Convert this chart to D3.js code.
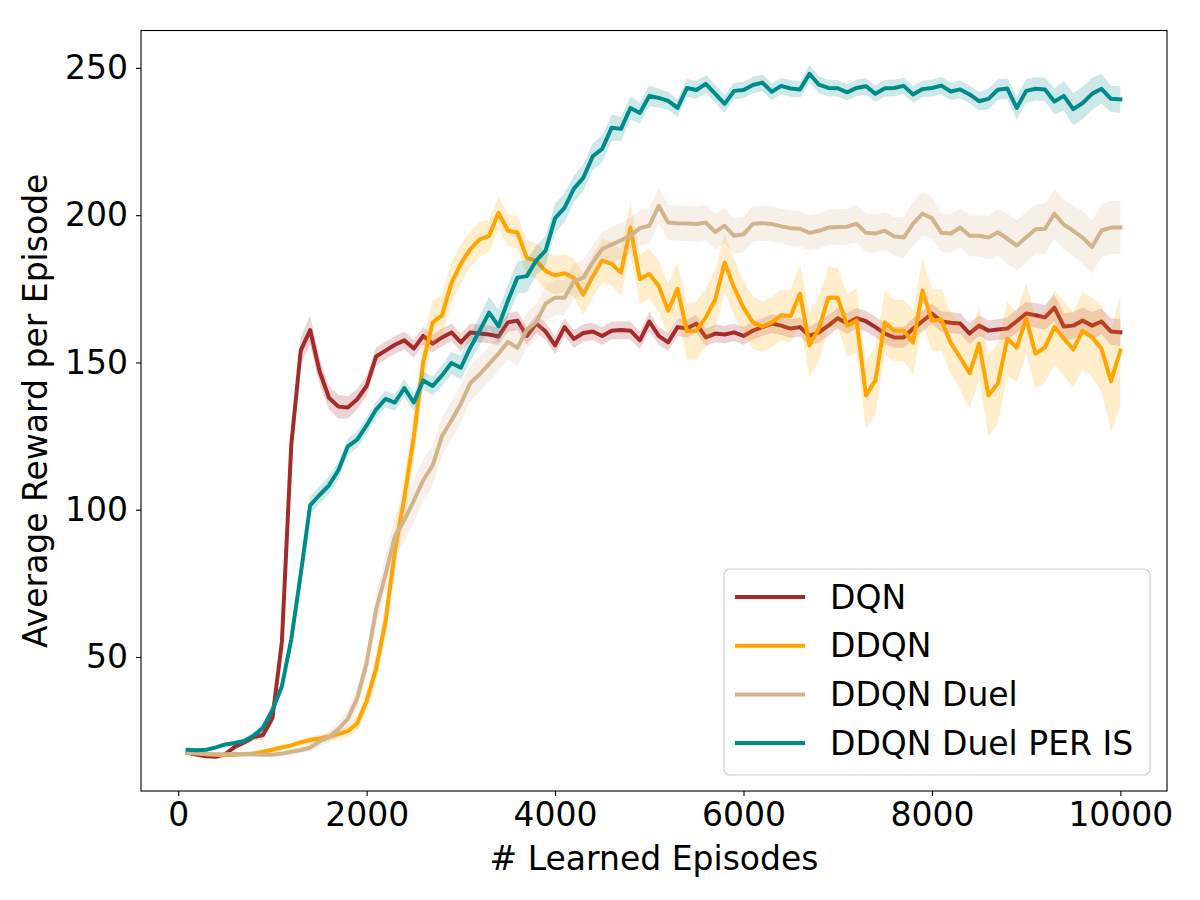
<!DOCTYPE html>
<html>
<head>
<meta charset="utf-8">
<script src="https://cdn.jsdelivr.net/npm/d3@7"></script>
<style>
body { margin: 0; background: #fff; }
text { font-family: "DejaVu Sans", sans-serif; fill: #000; }
</style>
</head>
<body>
<svg width="1200" height="900"></svg>
<script>
const episodes = d3.range(100, 10001, 100);

const dqn = [17.5,16.8,16.3,16.1,17.0,19.5,21.0,22.8,23.5,29.3,
  55.0,122.0,154.0,161.0,147.0,138.0,135.0,134.7,137.5,142.0,
  152.0,154.0,156.0,157.5,154.7,159.0,156.4,158.5,160.2,156.8,
  160.2,159.8,159.5,158.8,163.6,164.2,159.0,163.2,160.5,155.8,
  162.0,158.0,160.0,160.5,159.0,160.8,161.0,160.8,157.5,163.9,
  159.0,156.8,162.0,161.5,163.2,158.5,159.8,159.5,160.2,159.0,
  160.8,162.0,163.2,162.5,161.5,162.0,159.0,160.2,162.5,165.0,
  163.2,165.0,164.0,162.0,159.8,158.5,158.5,161.5,164.0,166.6,
  163.9,163.5,163.2,159.8,162.5,160.8,161.2,161.5,164.0,166.6,
  166.0,165.3,168.6,162.2,162.5,164.2,162.5,163.9,160.5,160.2];
const dqnSpread = [0.5,0.5,0.5,0.5,0.6,0.8,1.0,1.2,1.5,2.0,
  2.5,3.5,4.5,5.0,4.5,4.0,4.0,3.8,3.5,3.5,
  3.2,3.0,3.0,3.0,3.0,3.0,3.0,3.0,3.0,3.0,
  3.0,3.0,3.0,3.0,3.2,3.2,3.0,3.0,3.0,3.0,
  3.0,3.0,3.0,3.0,3.0,3.0,3.0,3.0,3.0,3.2,
  3.0,3.0,3.0,3.0,3.0,3.0,3.0,3.0,3.0,3.0,
  3.0,3.0,3.2,3.2,3.2,3.2,3.2,3.5,3.5,3.5,
  3.5,3.5,3.5,3.5,3.5,3.5,3.5,3.5,3.5,3.5,
  3.5,3.5,3.5,3.5,3.5,3.5,3.5,3.8,4.0,4.0,
  4.2,4.2,4.5,4.5,4.5,4.5,4.5,4.5,4.5,4.5];

const ddqn = [17.5,17.2,17.0,16.8,16.6,16.8,17.0,17.2,17.8,18.5,
  19.3,20.0,21.0,21.8,22.3,23.0,23.8,24.8,27.5,35.0,
  46.0,62.0,86.0,104.0,124.6,150.0,163.5,166.0,177.0,183.5,
  188.5,191.8,193.0,200.8,194.7,194.1,185.5,184.5,181.0,179.5,
  180.3,178.7,173.0,179.2,184.6,183.5,180.5,195.8,178.3,180.0,
  176.0,167.6,175.0,160.6,160.8,165.3,171.4,183.9,175.4,168.6,
  163.6,162.1,163.6,166.0,165.8,173.4,155.8,161.5,172.0,172.0,
  162.5,164.2,138.8,143.9,163.6,160.8,160.8,156.8,174.4,164.2,
  164.5,156.6,151.7,146.3,156.4,138.8,142.9,158.1,155.1,164.9,
  153.0,155.1,162.0,158.1,154.4,160.8,158.5,154.7,143.6,154.0];
const ddqnSpread = [0.5,0.5,0.5,0.5,0.5,0.6,0.6,0.7,0.8,0.9,
  1.0,1.0,1.1,1.2,1.3,1.4,1.5,1.8,2.5,3.5,
  4.5,6.0,7.0,7.5,8.0,8.0,7.5,7.0,7.0,6.5,
  6.0,6.0,5.5,5.5,5.5,5.5,6.0,6.0,6.5,6.5,
  6.5,6.5,7.0,7.0,7.5,7.5,8.0,8.5,8.5,8.5,
  8.5,9.0,9.0,9.5,10.0,10.0,10.0,10.0,9.5,9.0,
  9.0,8.5,8.5,8.5,9.0,10.0,11.0,11.0,10.5,10.0,
  10.5,11.0,11.5,11.5,11.0,10.5,10.5,11.0,11.0,10.5,
  10.5,10.5,11.0,12.0,12.5,14.0,13.5,12.5,12.0,12.0,
  12.0,12.0,12.5,12.5,13.0,13.0,13.5,14.5,17.0,19.0];

const duel = [17.5,17.3,17.1,17.0,17.0,17.1,17.0,16.9,16.8,16.8,
  17.2,17.8,18.4,19.2,21.3,22.8,25.5,29.0,36.0,48.0,
  66.0,78.0,91.0,96.5,103.0,110.0,115.0,125.0,130.3,136.0,
  143.0,146.0,149.5,153.0,157.0,155.0,161.0,163.7,170.0,172.0,
  172.0,177.5,178.8,184.0,188.5,190.0,191.5,193.0,195.6,196.4,
  203.2,197.5,197.3,197.2,197.0,197.5,194.3,196.4,193.0,193.5,
  197.1,197.3,197.0,196.2,195.6,195.4,194.0,194.7,195.8,196.0,
  196.1,197.1,194.0,193.8,194.7,192.8,192.4,197.1,200.5,199.0,
  194.0,193.8,195.8,193.0,193.0,192.4,194.2,192.0,189.7,192.5,
  195.2,195.4,200.5,196.8,194.7,192.4,189.2,194.8,195.8,195.8];
const duelSpread = [0.5,0.5,0.5,0.5,0.5,0.5,0.5,0.5,0.6,0.7,
  0.8,0.9,1.0,1.2,1.5,2.0,2.5,3.0,3.5,4.0,
  5.0,6.0,7.0,7.5,7.5,7.0,7.0,6.5,6.5,6.5,
  6.0,6.0,6.0,6.0,6.0,6.0,6.0,6.0,6.0,6.0,
  6.0,6.0,6.0,6.0,6.0,6.0,6.0,6.0,6.0,6.0,
  6.0,6.0,6.0,6.0,6.0,6.0,6.0,6.0,6.0,6.0,
  6.0,6.0,6.0,6.0,6.0,6.0,6.0,6.0,6.0,6.0,
  6.0,6.5,6.5,6.5,6.5,6.5,7.0,7.5,7.5,7.0,
  6.5,6.5,6.5,7.0,7.0,7.5,8.0,8.5,8.5,8.5,
  8.5,8.5,8.5,8.5,8.5,9.0,9.0,9.0,9.0,9.0];

const per = [18.5,18.3,18.5,19.3,20.3,20.8,21.5,23.3,26.0,32.0,
  40.0,56.0,78.0,101.5,105.0,108.3,113.4,121.5,123.8,128.6,
  134.0,137.6,136.4,141.3,136.4,143.9,142.0,145.6,149.8,148.2,
  155.0,160.8,166.9,162.3,171.0,178.8,179.3,184.6,188.0,199.0,
  202.5,209.0,212.7,220.0,222.5,229.7,229.3,236.4,234.7,240.5,
  239.8,238.8,236.4,243.2,242.5,244.6,241.2,237.8,242.2,242.5,
  244.2,245.0,241.9,243.9,243.0,242.7,248.0,244.3,243.2,243.1,
  241.7,243.2,243.8,241.2,243.1,243.2,243.9,241.0,242.8,243.2,
  244.0,242.0,242.7,241.0,238.7,239.5,242.6,243.0,236.4,242.2,
  242.9,242.7,238.6,240.5,236.0,238.1,241.2,242.9,239.5,239.3];
const perSpread = [0.5,0.5,0.5,0.6,0.7,0.8,1.0,1.2,1.5,2.0,
  2.0,2.5,3.0,3.0,3.0,3.0,2.8,2.8,2.8,2.8,
  2.8,2.8,2.8,3.0,3.0,3.0,3.2,3.5,3.8,4.0,
  4.5,5.0,5.5,5.5,5.5,5.5,5.5,5.0,5.0,5.0,
  5.0,4.5,4.5,4.5,4.5,4.5,4.0,4.0,3.5,3.5,
  3.2,3.0,3.0,3.0,3.0,3.0,3.0,3.0,2.8,2.8,
  2.8,2.8,2.8,2.8,2.8,2.8,3.0,2.8,2.8,2.8,
  2.8,2.8,2.8,2.8,2.8,2.8,2.8,2.8,2.8,2.8,
  3.0,3.0,3.0,3.0,3.2,3.5,3.5,3.5,4.0,4.0,
  4.0,4.0,4.5,5.0,5.5,5.5,5.5,5.0,4.5,4.5];

const seriesNames = ['DQN', 'DDQN', 'DDQN Duel', 'DDQN Duel PER IS'];
const xTicks = [0, 2000, 4000, 6000, 8000, 10000];
const yTicks = [50, 100, 150, 200, 250];

const colors = ['#a52a2a', '#ffa500', '#d2b48c', '#008b8b'];
const means = [dqn, ddqn, duel, per];
const spreads = [dqnSpread, ddqnSpread, duelSpread, perSpread];

const svg = d3.select('svg');
const plotLeft = 141, plotRight = 1167, plotTop = 30.5, plotBottom = 791;

const xScale = d3.scaleLinear().domain([-395, 10495]).range([plotLeft, plotRight]);
const yScale = d3.scaleLinear().domain([4.5, 262.7]).range([plotBottom, plotTop]);

const series = seriesNames.map((name, k) => ({
    name,
    color: colors[k],
    points: episodes.map((e, i) => ({ x: e, y: means[k][i], s: spreads[k][i] }))
}));

const area = d3.area()
    .x(d => xScale(d.x))
    .y0(d => yScale(d.y - d.s))
    .y1(d => yScale(d.y + d.s));

const line = d3.line()
    .x(d => xScale(d.x))
    .y(d => yScale(d.y));

const plot = svg.append('g');
series.forEach(s => {
    plot.append('path')
        .attr('d', area(s.points))
        .attr('fill', s.color)
        .attr('fill-opacity', 0.2);
    plot.append('path')
        .attr('d', line(s.points))
        .attr('fill', 'none')
        .attr('stroke', s.color)
        .attr('stroke-width', 4)
        .attr('stroke-linejoin', 'round')
        .attr('stroke-linecap', 'square');
});

// axes
const xAxis = svg.append('g')
    .attr('transform', `translate(0,${plotBottom})`)
    .call(d3.axisBottom(xScale).tickValues(xTicks).tickFormat(d3.format('d')).tickSize(5).tickPadding(7));
const yAxis = svg.append('g')
    .attr('transform', `translate(${plotLeft},0)`)
    .call(d3.axisLeft(yScale).tickValues(yTicks).tickFormat(d3.format('d')).tickSize(5).tickPadding(8));

[xAxis, yAxis].forEach(a => {
    a.select('.domain').remove();
    a.selectAll('.tick line').attr('stroke', '#000').attr('stroke-width', 1.1);
    a.selectAll('.tick text').attr('font-size', 33).attr('font-family', 'DejaVu Sans').attr('fill', '#000');
});

svg.append('rect')
    .attr('x', plotLeft).attr('y', plotTop)
    .attr('width', plotRight - plotLeft).attr('height', plotBottom - plotTop)
    .attr('fill', 'none')
    .attr('stroke', '#000')
    .attr('stroke-width', 1.1);

svg.append('text')
    .attr('x', (plotLeft + plotRight) / 2)
    .attr('y', 870)
    .attr('text-anchor', 'middle')
    .attr('font-size', 33)
    .text('# Learned Episodes');

svg.append('text')
    .attr('transform', `translate(47,${(plotTop + plotBottom) / 2}) rotate(-90)`)
    .attr('text-anchor', 'middle')
    .attr('font-size', 33)
    .text('Average Reward per Episode');

// legend
const legend = svg.append('g').attr('transform', 'translate(724,569)');
legend.append('rect')
    .attr('width', 426).attr('height', 206)
    .attr('rx', 6)
    .attr('fill', '#fff').attr('fill-opacity', 0.8)
    .attr('stroke', '#cccccc').attr('stroke-width', 1.1);

series.forEach((s, k) => {
    const row = legend.append('g').attr('transform', `translate(0,${28 + k * 48.7})`);
    row.append('line')
        .attr('x1', 13).attr('x2', 79)
        .attr('stroke', s.color).attr('stroke-width', 4)
        .attr('stroke-linecap', 'square');
    row.append('text')
        .attr('x', 106).attr('dy', '0.35em')
        .attr('font-size', 33)
        .text(s.name);
});
</script>
</body>
</html>
